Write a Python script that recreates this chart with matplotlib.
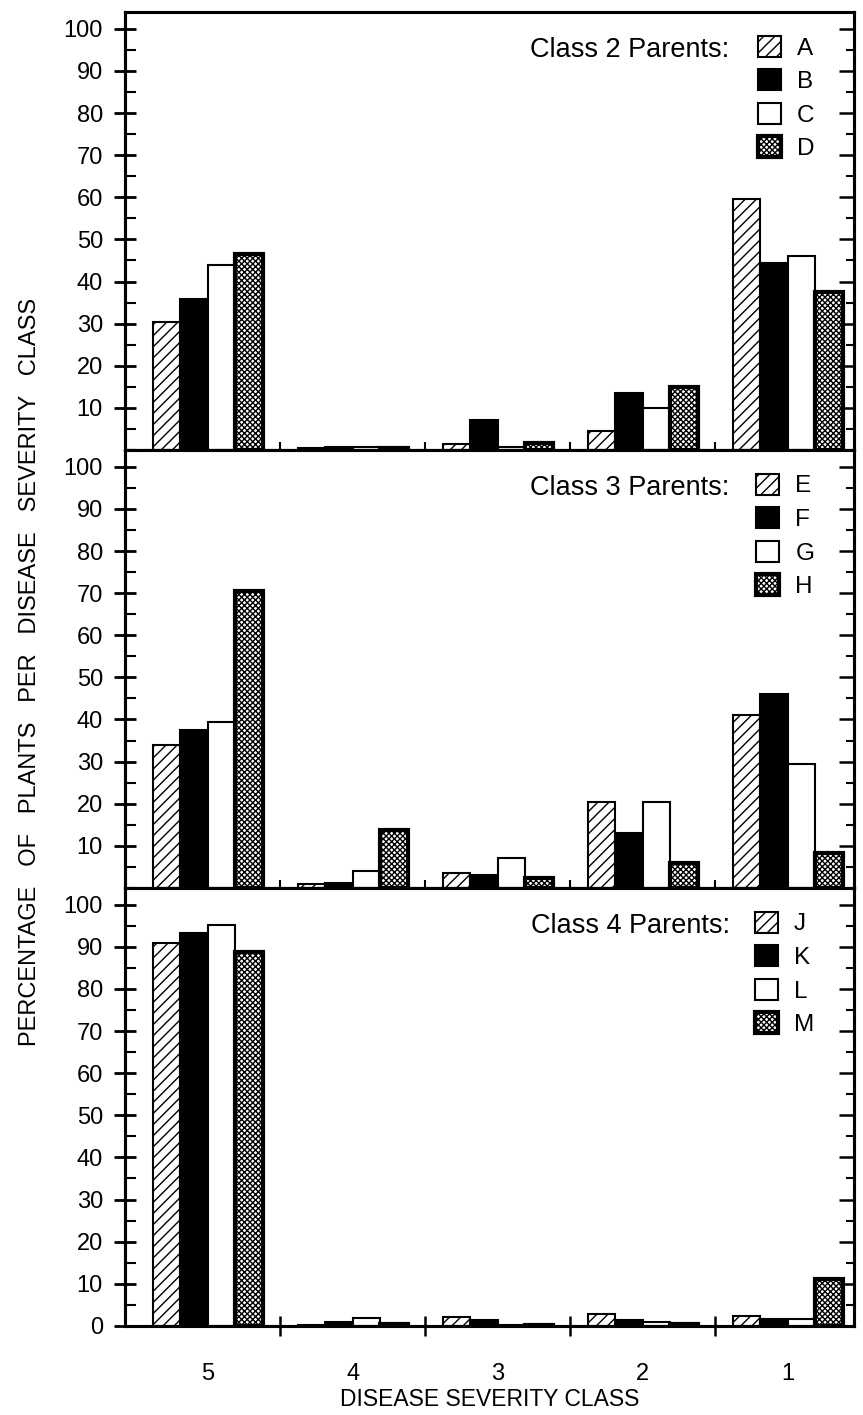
import matplotlib
matplotlib.use('Agg')
import matplotlib.pyplot as plt
import numpy as np
from matplotlib.patches import Patch
from matplotlib.ticker import MultipleLocator

plt.rcParams['font.family'] = ['Liberation Sans', 'DejaVu Sans']
plt.rcParams['hatch.linewidth'] = 1.0

# disease severity classes, left to right
classes = ['5', '4', '3', '2', '1']

# class 2 parents (top panel)
class2_names = ['A', 'B', 'C', 'D']
class2_A = [30.5, 0.5, 1.5, 4.5, 59.5]
class2_B = [35.8, 0.8, 7.0, 13.5, 44.5]
class2_C = [44.0, 0.8, 0.6, 10.0, 46.0]
class2_D = [46.6, 0.5, 1.7, 15.0, 37.5]

# class 3 parents (middle panel)
class3_names = ['E', 'F', 'G', 'H']
class3_E = [34.0, 1.0, 3.5, 20.5, 41.0]
class3_F = [37.5, 1.2, 3.0, 13.0, 46.0]
class3_G = [39.3, 4.0, 7.2, 20.5, 29.5]
class3_H = [70.5, 13.8, 2.3, 5.8, 8.2]

# class 4 parents (bottom panel)
class4_names = ['J', 'K', 'L', 'M']
class4_J = [90.8, 0.3, 2.2, 2.8, 2.3]
class4_K = [93.2, 0.8, 1.5, 1.5, 1.6]
class4_L = [95.2, 1.8, 0.3, 0.9, 1.6]
class4_M = [88.8, 0.5, 0.3, 0.4, 11.2]

panels = [
    ('Class 2 Parents:', class2_names, [class2_A, class2_B, class2_C, class2_D]),
    ('Class 3 Parents:', class3_names, [class3_E, class3_F, class3_G, class3_H]),
    ('Class 4 Parents:', class4_names, [class4_J, class4_K, class4_L, class4_M]),
]

styles = [
    dict(facecolor='white', edgecolor='black', hatch='///', linewidth=1.5),
    dict(facecolor='black', edgecolor='black', linewidth=1.5),
    dict(facecolor='white', edgecolor='black', linewidth=1.5),
    dict(facecolor='white', edgecolor='black', hatch='xxxxxx', linewidth=3),
]

x = np.arange(len(classes))
w = 0.19
offs = [-1.5, -0.5, 0.5, 1.5]

fig = plt.figure(figsize=(8.63, 14.15), dpi=100)
L, R, B, T = 0.145, 0.99, 0.063, 0.9915
ph = (T - B) / 3

for k, (title, names, vals) in enumerate(panels):
    ax = fig.add_axes([L, T - (k + 1) * ph, R - L, ph])
    for j in range(4):
        ax.bar(x + offs[j] * w, vals[j], w, **styles[j])
    ax.set_xlim(-0.57, 4.46)
    ax.set_ylim(0, 104)
    for s in ax.spines.values():
        s.set_linewidth(2.2)

    if k < 2:
        ax.set_yticks(np.arange(10, 101, 10))
    else:
        ax.set_yticks(np.arange(0, 101, 10))
    ax.yaxis.set_minor_locator(MultipleLocator(5))
    ax.tick_params(axis='y', which='major', direction='inout', length=16, width=2,
                   labelsize=17, pad=8)
    ax.tick_params(axis='y', which='minor', direction='in', length=8, width=1.5)

    # right hand ticks point inward
    axr = ax.twinx()
    axr.set_ylim(0, 104)
    axr.yaxis.set_major_locator(MultipleLocator(10))
    axr.yaxis.set_minor_locator(MultipleLocator(5))
    axr.tick_params(axis='y', which='major', direction='in', length=11, width=1.8, labelright=False)
    axr.tick_params(axis='y', which='minor', direction='in', length=6, width=1.5)
    for s in axr.spines.values():
        s.set_linewidth(2.2)

    ax.set_xticks([0.5, 1.5, 2.5, 3.5])
    if k < 2:
        ax.tick_params(axis='x', which='major', direction='in', length=6, width=1.5,
                       labelbottom=False)
    else:
        ax.set_xticklabels([])
        ax.tick_params(axis='x', which='major', direction='inout', length=14, width=1.8)
        ax.set_xticks(x, classes, minor=True)
        ax.tick_params(axis='x', which='minor', length=0, labelsize=17, pad=27)
        ax.set_xlabel('DISEASE SEVERITY CLASS', fontsize=16.5, labelpad=2)

    handles = [Patch(**styles[j]) for j in range(4)]
    ax.legend(handles, names, loc='upper right', bbox_to_anchor=(0.945, 0.946),
              frameon=False, fontsize=17.5, handlelength=0.95, handleheight=0.95,
              handletextpad=0.65, labelspacing=0.4, borderpad=0, borderaxespad=0)
    ax.text(0.829, 0.914, title, transform=ax.transAxes, ha='right', va='center',
            fontsize=19.5)

fig.text(0.035, 0.525, 'PERCENTAGE   OF   PLANTS   PER   DISEASE   SEVERITY   CLASS',
         rotation=90, ha='center', va='center', fontsize=17)

fig.savefig('out.png', dpi=100)
